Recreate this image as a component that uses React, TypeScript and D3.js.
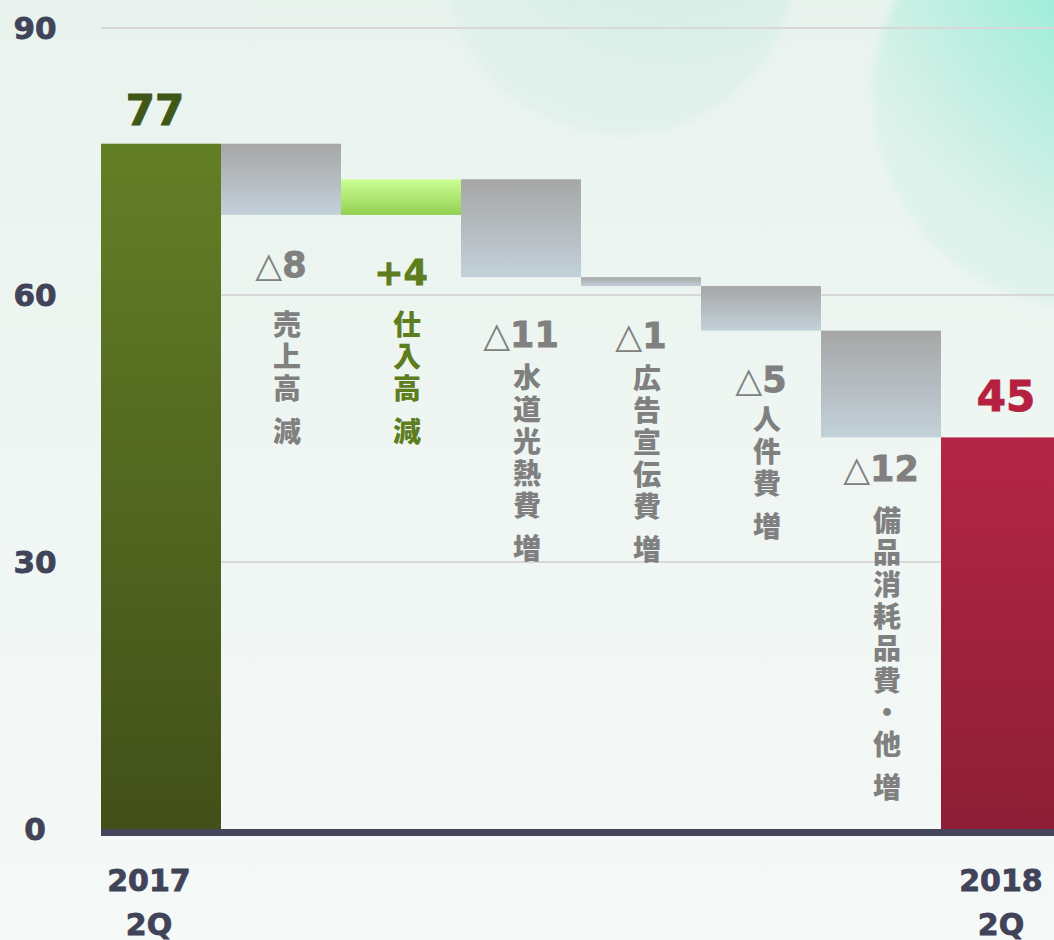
import React from "react";
import * as d3 from "d3";

// chart data
const categories = ["2017 2Q", "売上高減", "仕入高減", "水道光熱費増", "広告宣伝費増", "人件費増", "備品消耗品費・他増", "2018 2Q"];
const startValue = 77;
const deltas = [-8, 4, -11, -1, -5, -12];
const valueLabels = ["77", "△8", "+4", "△11", "△1", "△5", "△12", "45"];
// vertical name split in two pieces (second piece set apart)
const nameParts = [
  ["売上高", "減"],
  ["仕入高", "減"],
  ["水道光熱費", "増"],
  ["広告宣伝費", "増"],
  ["人件費", "増"],
  ["備品消耗品費・他", "増"],
];
const totalLabels = [["2017", "2Q"], ["2018", "2Q"]];
const yTicks = [0, 30, 60, 90];

const W = 1054;
const H = 940;

// label placement below each step bar (px)
const deltaBaseline = [62, 70, 70, 62, 61, 44];
const nameOffset = [48, 40, 31, 31, 28, 40];

const numFont = "'DejaVu Sans', sans-serif";
const cjkFont = "'Noto Sans CJK JP', sans-serif";

export default function App() {
  const x = d3.scaleBand<number>().domain(d3.range(categories.length)).range([101, 101 + 120 * categories.length]).padding(0);
  const y = d3.scaleLinear().domain([0, 90]).range([829, 28]);

  // waterfall steps
  let run = startValue;
  const steps = deltas.map((d) => {
    const from = run;
    run += d;
    return { from, to: run, d };
  });
  const endValue = run;

  return (
    <svg width={W} height={H} style={{ position: "absolute", left: 0, top: 0 }}>
      <defs>
        <linearGradient id="bg" x1="0" y1="0" x2="0" y2="1">
          <stop offset="0" stopColor="#e9f3ee" />
          <stop offset="1" stopColor="#f5f9f7" />
        </linearGradient>
        <radialGradient id="bubble1" cx="0.85" cy="0.0" r="1.0">
          <stop offset="0" stopColor="#62ecce" />
          <stop offset="0.45" stopColor="#9aeed9" />
          <stop offset="0.8" stopColor="#c6efe3" />
          <stop offset="1" stopColor="#d8f1e9" stopOpacity="0.7" />
        </radialGradient>
        <radialGradient id="bubble2" cx="0.65" cy="0.2" r="0.85">
          <stop offset="0" stopColor="#cbece2" />
          <stop offset="1" stopColor="#dbefe8" stopOpacity="0.5" />
        </radialGradient>
        <filter id="soft" x="-20%" y="-20%" width="140%" height="140%">
          <feGaussianBlur stdDeviation="4" />
        </filter>
        <linearGradient id="gStart" x1="0" y1="0" x2="0" y2="1">
          <stop offset="0" stopColor="#637f26" />
          <stop offset="1" stopColor="#425019" />
        </linearGradient>
        <linearGradient id="gEnd" x1="0" y1="0" x2="0" y2="1">
          <stop offset="0" stopColor="#b42645" />
          <stop offset="1" stopColor="#8d1e36" />
        </linearGradient>
        <linearGradient id="gNeg" x1="0" y1="0" x2="0" y2="1">
          <stop offset="0" stopColor="#a6a6a6" />
          <stop offset="1" stopColor="#c3d1da" />
        </linearGradient>
        <linearGradient id="gPos" x1="0" y1="0" x2="0" y2="1">
          <stop offset="0" stopColor="#ccff96" />
          <stop offset="1" stopColor="#92d050" />
        </linearGradient>
      </defs>

      <rect width={W} height={H} fill="url(#bg)" />
      <circle cx={620} cy={-40} r={175} fill="url(#bubble2)" filter="url(#soft)" />
      <circle cx={1085} cy={95} r={212} fill="url(#bubble1)" filter="url(#soft)" />

      {/* gridlines */}
      {yTicks.filter((t) => t > 0).map((t) => (
        <line key={t} x1={101} x2={W} y1={y(t)} y2={y(t)} stroke="#d8d8d8" strokeWidth={2} />
      ))}

      {/* y tick labels */}
      {yTicks.map((t) => (
        <text key={t} x={35} y={y(t)} dy="0.36em" textAnchor="middle" fontFamily={numFont} fontWeight="bold" fontSize={31} fill="#414359" stroke="#414359" strokeWidth={0.8}>
          {t}
        </text>
      ))}

      {/* start & end bars */}
      <rect x={x(0)} y={y(startValue)} width={x.bandwidth()} height={y(0) - y(startValue)} fill="url(#gStart)" />
      <rect x={x(7)} y={y(endValue)} width={x.bandwidth()} height={y(0) - y(endValue)} fill="url(#gEnd)" />

      {/* step bars */}
      {steps.map((s, i) => {
        const top = y(Math.max(s.from, s.to));
        const bot = y(Math.min(s.from, s.to));
        return (
          <rect key={i} x={x(i + 1)} y={top} width={x.bandwidth()} height={bot - top} fill={s.d > 0 ? "url(#gPos)" : "url(#gNeg)"} />
        );
      })}

      {/* baseline */}
      <rect x={101} y={y(0)} width={W - 101} height={7} fill="#45465b" />

      {/* totals labels */}
      <text x={x(0)! + x.bandwidth() / 2 - 6} y={y(startValue) - 19} textAnchor="middle" fontFamily={numFont} fontWeight="bold" fontSize={42} fill="#3f5717" stroke="#3f5717" strokeWidth={1}>
        {valueLabels[0]}
      </text>
      <text x={x(7)! + x.bandwidth() / 2 + 5} y={y(endValue) - 26} textAnchor="middle" fontFamily={numFont} fontWeight="bold" fontSize={42} fill="#b51f40" stroke="#b51f40" strokeWidth={1}>
        {valueLabels[7]}
      </text>

      {/* step labels */}
      {steps.map((s, i) => {
        const cx = x(i + 1)! + x.bandwidth() / 2;
        const bot = y(Math.min(s.from, s.to));
        const pos = s.d > 0;
        const color = pos ? "#5e7d1f" : "#808080";
        const lbl = valueLabels[i + 1];
        const base = bot + deltaBaseline[i];
        const nameStart = base + nameOffset[i];
        const chars: { c: string; yy: number }[] = [];
        let yy = nameStart;
        nameParts[i].forEach((part, pi) => {
          if (pi > 0) yy += 11;
          Array.from(part).forEach((c) => {
            chars.push({ c, yy });
            yy += 32;
          });
        });
        return (
          <g key={i}>
            <text x={cx} y={base} textAnchor="middle" fontFamily={numFont} fontWeight="bold" fontSize={35} fill={color}>
              {pos ? (
                <tspan stroke={color} strokeWidth={0.8}>{lbl}</tspan>
              ) : (
                <>
                  <tspan fontWeight="normal">△</tspan>
                  <tspan stroke={color} strokeWidth={0.8}>{lbl.slice(1)}</tspan>
                </>
              )}
            </text>
            {chars.map((ch, k) => (
              <text key={k} x={cx + 6} y={ch.yy} dy="0.36em" textAnchor="middle" fontFamily={cjkFont} fontWeight={900} fontSize={28} fill={color}>
                {ch.c}
              </text>
            ))}
          </g>
        );
      })}

      {/* x labels for totals */}
      {[0, 7].map((idx, k) => (
        <text key={idx} textAnchor="middle" fontFamily={numFont} fontWeight="bold" fontSize={30} fill="#414359" stroke="#414359" strokeWidth={0.8}>
          {totalLabels[k].map((line, li) => (
            <tspan key={li} x={x(idx)! + x.bandwidth() / 2 + (k === 0 ? -12 : 0)} y={891 + li * 44}>
              {line}
            </tspan>
          ))}
        </text>
      ))}
    </svg>
  );
}
